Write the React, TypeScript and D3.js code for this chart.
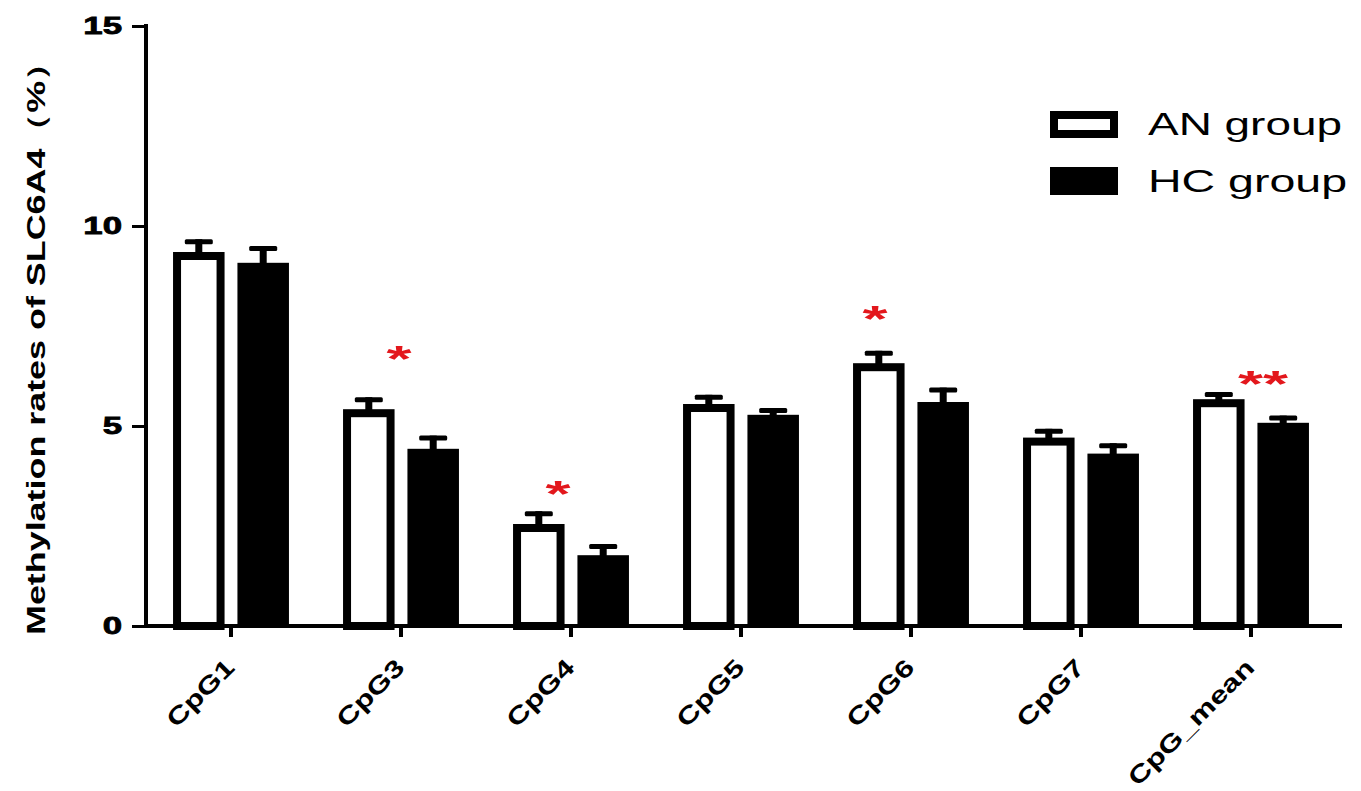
import React, { useEffect, useRef } from 'react';
import * as d3 from 'd3';

const categories = ['CpG1', 'CpG3', 'CpG4', 'CpG5', 'CpG6', 'CpG7', 'CpG_mean'];
const groups = ['AN group', 'HC group'];
const anMeans = [9.35, 5.42, 2.55, 5.55, 6.57, 4.71, 5.67];
const anSem = [0.32, 0.3, 0.32, 0.23, 0.31, 0.22, 0.18];
const hcMeans = [9.08, 4.43, 1.77, 5.28, 5.6, 4.31, 5.08];
const hcSem = [0.42, 0.33, 0.28, 0.17, 0.36, 0.26, 0.18];
const stars = ['', '*', '*', '', '*', '', '**'];
const starLevels = [0, 6.85, 3.48, 0, 7.85, 0, 6.22];
const yTicks = [0, 5, 10, 15];
const yTitle = 'Methylation rates of SLC6A4（%）';

const FONT = "'Liberation Sans', Arial, sans-serif";

function App() {
  const chartRef = useRef<SVGSVGElement>(null);

  useEffect(() => {
    const width = 1361;
    const height = 791;
    const svg = d3.select(chartRef.current).attr('width', width).attr('height', height);
    svg.selectAll('*').remove();

    const x = d3.scaleBand().domain(categories).range([146, 1336]);
    const x1 = d3.scaleBand().domain(groups).range([0, x.bandwidth()])
      .paddingInner(0.2).paddingOuter(0.42);
    const y = d3.scaleLinear().domain([0, 15]).range([626, 26]);
    const bw = x1.bandwidth();

    // bars
    const rows = categories.flatMap((c, i) => [
      { c, g: groups[0], v: anMeans[i], e: anSem[i] },
      { c, g: groups[1], v: hcMeans[i], e: hcSem[i] },
    ]);
    const plot = svg.append('g');
    rows.forEach(d => {
      const left = (x(d.c) as number) + (x1(d.g) as number);
      const cx = left + bw / 2;
      // error bar (upper only)
      plot.append('rect')
        .attr('x', cx - 3.5).attr('y', y(d.v + d.e))
        .attr('width', 7).attr('height', y(d.v) - y(d.v + d.e) + 4)
        .attr('fill', '#000');
      plot.append('rect')
        .attr('x', cx - 14).attr('y', y(d.v + d.e))
        .attr('width', 28).attr('height', 5).attr('rx', 1.5)
        .attr('fill', '#000');
      if (d.g === groups[0]) {
        plot.append('rect')
          .attr('x', left + 4).attr('y', y(d.v) + 4)
          .attr('width', bw - 8).attr('height', y(0) - y(d.v) - 4)
          .attr('fill', '#fff').attr('stroke', '#000').attr('stroke-width', 8);
      } else {
        plot.append('rect')
          .attr('x', left).attr('y', y(d.v))
          .attr('width', bw).attr('height', y(0) - y(d.v))
          .attr('fill', '#000');
      }
    });

    // y axis
    const ya = svg.append('g').attr('transform', 'translate(146,0)')
      .call(d3.axisLeft(y).tickValues(yTicks).tickSize(14).tickPadding(10).tickSizeOuter(0));
    ya.select('.domain').attr('stroke-width', 4).attr('d', `M0,${y(15) - 2}V${y(0) + 2}`);
    ya.selectAll('.tick line').attr('stroke-width', 3);
    ya.selectAll('.tick text')
      .attr('font-family', FONT).attr('font-weight', 'bold').attr('font-size', 24)
      .attr('fill', '#000').attr('stroke', '#000').attr('stroke-width', 0.8)
      .each(function () {
        const t = this as SVGTextElement;
        t.setAttribute('textLength', String(t.getComputedTextLength() * 1.45));
        t.setAttribute('lengthAdjust', 'spacingAndGlyphs');
      });

    // x axis
    const xa = svg.append('g').attr('transform', `translate(0,${y(0)})`)
      .call(d3.axisBottom(x).tickSize(11).tickSizeOuter(0));
    xa.select('.domain').attr('stroke-width', 4).attr('d', 'M144,0H1342');
    xa.selectAll('.tick line').attr('stroke-width', 4);
    xa.selectAll('.tick text').remove();
    categories.forEach(c => {
      const cx = (x(c) as number) + x.bandwidth() / 2;
      const t = svg.append('text')
        .attr('transform', `translate(${cx + 5},${y(0) + 43}) rotate(-45)`)
        .attr('text-anchor', 'end')
        .attr('font-family', FONT).attr('font-weight', 'bold').attr('font-size', 24)
        .attr('fill', '#000')
        .text(c);
      const n = (t.node() as SVGTextElement).getComputedTextLength();
      t.attr('textLength', n * 1.32).attr('lengthAdjust', 'spacingAndGlyphs');
    });

    // significance stars
    const starDx = [0, -2, -13, 0, -36, 0, 12];
    categories.forEach((c, i) => {
      if (!stars[i]) return;
      const cx = (x(c) as number) + x.bandwidth() / 2 + starDx[i];
      svg.append('text')
        .attr('x', cx).attr('y', y(starLevels[i]) + 20)
        .attr('text-anchor', 'middle')
        .attr('font-family', FONT).attr('font-weight', 'bold').attr('font-size', 36)
        .attr('fill', '#e3171c')
        .attr('textLength', stars[i].length * 25).attr('lengthAdjust', 'spacingAndGlyphs')
        .text(stars[i]);
    });

    // y title
    svg.append('text')
      .attr('transform', `translate(45,340) rotate(-90)`)
      .attr('text-anchor', 'middle')
      .attr('font-family', FONT).attr('font-weight', 'bold').attr('font-size', 25)
      .attr('fill', '#000')
      .attr('textLength', 590).attr('lengthAdjust', 'spacingAndGlyphs')
      .text(yTitle);

    // legend
    const lg = svg.append('g');
    lg.append('rect').attr('x', 1054).attr('y', 115).attr('width', 60).attr('height', 19)
      .attr('fill', '#fff').attr('stroke', '#000').attr('stroke-width', 8);
    lg.append('rect').attr('x', 1050).attr('y', 167).attr('width', 68).attr('height', 28)
      .attr('fill', '#000');
    [[groups[0], 135, 194], [groups[1], 192, 199]].forEach(([label, ty, tl]) => {
      lg.append('text')
        .attr('x', 1148).attr('y', ty as number)
        .attr('font-family', FONT).attr('font-size', 32).attr('fill', '#000')
        .attr('textLength', tl as number).attr('lengthAdjust', 'spacingAndGlyphs')
        .text(label as string);
    });
  }, []);

  return (
    <div>
      <svg ref={chartRef} style={{ position: 'absolute', left: 0, top: 0, background: '#fff' }}></svg>
    </div>
  );
}

export default App;
